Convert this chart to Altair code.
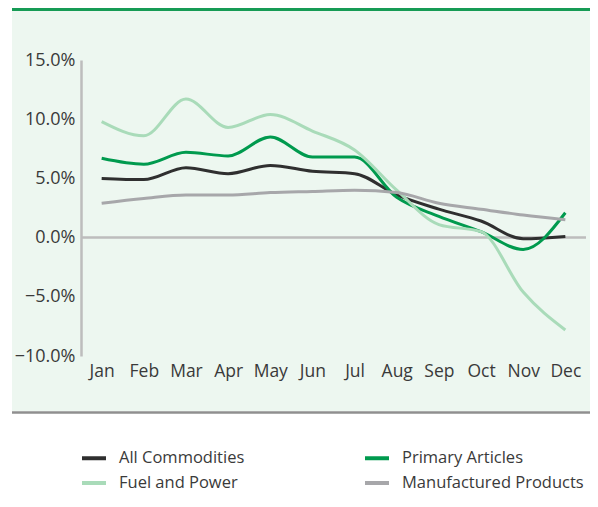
import altair as alt
import pandas as pd

months = ["Jan", "Feb", "Mar", "Apr", "May", "Jun", "Jul", "Aug", "Sep", "Oct", "Nov", "Dec"]
series_names = ["All Commodities", "Primary Articles", "Fuel and Power", "Manufactured Products"]
legend_order = ["All Commodities", "Fuel and Power", "Primary Articles", "Manufactured Products"]
all_commodities = [5.0, 4.9, 5.9, 5.4, 6.1, 5.6, 5.4, 3.6, 2.4, 1.4, -0.1, 0.1]
primary_articles = [6.7, 6.2, 7.2, 6.9, 8.5, 6.8, 6.8, 3.4, 1.8, 0.5, -1.0, 2.1]
fuel_and_power = [9.8, 8.6, 11.7, 9.3, 10.4, 9.0, 7.4, 4.0, 1.1, 0.5, -4.6, -7.8]
manufactured = [2.9, 3.3, 3.6, 3.6, 3.8, 3.9, 4.0, 3.8, 2.9, 2.4, 1.9, 1.5]
colors = {"All Commodities": "#2f2f2f", "Primary Articles": "#009a4e",
          "Fuel and Power": "#a9dbb9", "Manufactured Products": "#a7a7aa"}
y_ticks = [-10, -5, 0, 5, 10, 15]

rows = []
for name, vals in zip(series_names, [all_commodities, primary_articles, fuel_and_power, manufactured]):
    for m, v in zip(months, vals):
        rows.append({"Month": m, "Series": name, "Value": v})
df = pd.DataFrame(rows)

W, H = 505, 296
FONT = "Open Sans"
TXT = "#3a3a3a"
one = pd.DataFrame({"a": [0]})

panel = alt.Chart(one).mark_rect(color="#edf7f0").encode(
    x=alt.value(-69), x2=alt.value(509), y=alt.value(-50), y2=alt.value(351)
)
top_line = alt.Chart(one).mark_rule(color="#169b55", strokeWidth=3).encode(
    x=alt.value(-69), x2=alt.value(509), y=alt.value(-50.5)
)
bottom_line = alt.Chart(one).mark_rule(color="#8f8f8f", strokeWidth=2.5).encode(
    x=alt.value(-69), x2=alt.value(509), y=alt.value(352.5)
)

x_enc = alt.X("Month:N", sort=months, scale=alt.Scale(type="point", padding=0.49),
              axis=alt.Axis(title=None, domain=False, ticks=False, labelAngle=0, labelPadding=6,
                            labelFont=FONT, labelFontSize=17.5, labelColor=TXT, zindex=1))
y_scale = alt.Scale(domain=[-10, 15], nice=False, zero=False)

lines = alt.Chart(df).mark_line(interpolate="monotone", strokeWidth=3).encode(
    x=x_enc,
    y=alt.Y("Value:Q", scale=y_scale,
            axis=alt.Axis(title=None, values=y_ticks, grid=False, ticks=False,
                          domainColor="#bdbdbd", domainWidth=2.5, labelPadding=6,
                          labelExpr="format(datum.value, '.1f') + '%'",
                          labelFont=FONT, labelFontSize=18, labelColor=TXT, zindex=1)),
    color=alt.Color("Series:N",
                    scale=alt.Scale(domain=legend_order, range=[colors[s] for s in legend_order]),
                    legend=alt.Legend(title=None, orient="none", legendX=-1, legendY=384,
                                      columns=2, symbolType="stroke", symbolSize=576,
                                      symbolStrokeWidth=4, labelOffset=11, rowPadding=2,
                                      columnPadding=112, labelFont=FONT, labelFontSize=16.5,
                                      labelColor=TXT, labelLimit=400)),
)

zero_rule = alt.Chart(pd.DataFrame({"v": [0]})).mark_rule(color="#bdbdbd", strokeWidth=2.5).encode(
    y=alt.Y("v:Q", scale=y_scale), x=alt.value(0), x2=alt.value(W)
)

chart = alt.layer(panel, top_line, bottom_line, zero_rule, lines).properties(
    width=W, height=H,
    autosize=alt.AutoSizeParams(type="none"),
    padding={"left": 73, "top": 52, "right": 4, "bottom": 137},
    background="white",
).configure_view(stroke=None)

chart.save("out.html", embed_options={"renderer": "svg", "actions": False})
